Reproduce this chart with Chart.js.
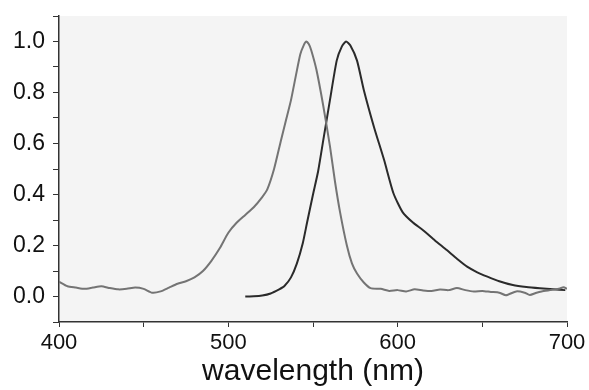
<!DOCTYPE html>
<html>
<head>
<meta charset="utf-8">
<script src="https://cdn.jsdelivr.net/npm/chart.js@4.4.1/dist/chart.umd.min.js"></script>
<style>
    html, body { margin: 0; padding: 0; background: #fff; }
    #wrap { width: 589px; height: 390px; }
</style>
</head>
<body>
<div id="wrap"><canvas id="spectraChart" width="589" height="390"></canvas></div>
<script>
// Gray spectrum (shorter-wavelength band)
const grayWavelength = [400, 405, 410, 415, 420, 425, 430, 435, 440, 445, 450, 455, 460, 465, 470, 475, 480,
    485, 490, 495, 500, 505, 510, 515, 520, 523, 527, 531, 534, 537, 540, 542.5, 544.5, 546, 547.5, 549, 552,
    556, 560, 563, 566, 570, 573, 576, 580, 584, 590, 595, 600, 605, 610, 615, 620, 625, 630, 635, 640, 645,
    650, 655, 660, 664, 670, 675, 678, 682, 685, 690, 695, 698, 700];
const grayValues = [0.058, 0.04, 0.035, 0.03, 0.035, 0.04, 0.033, 0.028, 0.03, 0.035, 0.03, 0.015, 0.02,
    0.035, 0.05, 0.06, 0.075, 0.1, 0.14, 0.19, 0.25, 0.29, 0.32, 0.35, 0.39, 0.42, 0.5, 0.61, 0.69, 0.77, 0.87,
    0.95, 0.985, 1.0, 0.99, 0.965, 0.89, 0.75, 0.59, 0.45, 0.33, 0.2, 0.13, 0.09, 0.055, 0.033, 0.03, 0.022,
    0.025, 0.02, 0.028, 0.024, 0.022, 0.027, 0.025, 0.033, 0.025, 0.02, 0.022, 0.018, 0.015, 0.005, 0.02,
    0.015, 0.006, 0.015, 0.02, 0.025, 0.03, 0.036, 0.03];

// Black spectrum (longer-wavelength band)
const blackWavelength = [510, 515, 520, 525, 530, 533, 537, 540.5, 544, 546.5, 550, 553, 556, 560, 564, 567,
    569.5, 572, 576, 580, 586, 592, 597.5, 603, 609, 615, 622, 629, 635, 641, 647, 653, 660, 668, 676, 684,
    692, 699];
const blackValues = [0.0, 0.001, 0.004, 0.012, 0.028, 0.04, 0.075, 0.13, 0.21, 0.29, 0.4, 0.49, 0.61, 0.77,
    0.925, 0.98, 1.0, 0.985, 0.925, 0.81, 0.665, 0.535, 0.405, 0.33, 0.29, 0.26, 0.22, 0.182, 0.148, 0.117,
    0.095, 0.078, 0.06, 0.045, 0.037, 0.032, 0.028, 0.025];

// Axis ticks
const xTickLabels = [400, 500, 600, 700];
const yTickLabels = [0.0, 0.2, 0.4, 0.6, 0.8, 1.0];

const toPoints = (xs, ys) => xs.map((x, i) => ({ x: x, y: ys[i] }));

// light gray plot background
const plotBackground = {
    id: 'plotBackground',
    beforeDraw(chart) {
        const { ctx, chartArea } = chart;
        ctx.save();
        ctx.fillStyle = '#f4f4f4';
        ctx.fillRect(chartArea.left, chartArea.top, chartArea.right - chartArea.left, chartArea.bottom - chartArea.top);
        ctx.restore();
    }
};

new Chart(document.getElementById('spectraChart').getContext('2d'), {
    type: 'scatter',
    data: {
        datasets: [
            {
                label: 'gray',
                data: toPoints(grayWavelength, grayValues),
                showLine: true,
                borderColor: '#747474',
                borderWidth: 2,
                pointRadius: 0,
                tension: 0.2
            },
            {
                label: 'black',
                data: toPoints(blackWavelength, blackValues),
                showLine: true,
                borderColor: '#2a2a2a',
                borderWidth: 2,
                pointRadius: 0,
                tension: 0.2
            }
        ]
    },
    options: {
        responsive: false,
        animation: false,
        layout: { padding: { top: 0, right: 22, left: 0, bottom: 0 } },
        plugins: {
            legend: { display: false },
            tooltip: { enabled: false }
        },
        scales: {
            x: {
                type: 'linear',
                min: 400,
                max: 700,
                afterFit: scale => { scale.height = 68; },
                border: { display: true, color: '#333', width: 1.5 },
                grid: { drawOnChartArea: false, drawTicks: true, tickLength: 5, color: '#333' },
                ticks: {
                    stepSize: 50,
                    padding: 3,
                    color: '#111',
                    font: { family: 'Liberation Sans, Arial, sans-serif', size: 22 },
                    maxRotation: 0,
                    autoSkip: false,
                    callback: v => xTickLabels.includes(v) ? String(v) : ''
                },
                title: {
                    display: true,
                    text: 'wavelength (nm)',
                    color: '#111',
                    font: { family: 'Liberation Sans, Arial, sans-serif', size: 30 },
                    padding: { top: 2, bottom: 0 }
                }
            },
            y: {
                min: -0.1,
                max: 1.1,
                afterFit: scale => {
                    scale.width = 59;
                    scale.paddingTop = 16;
                    scale.paddingBottom = 0;
                },
                border: { display: true, color: '#333', width: 1.5 },
                grid: { drawOnChartArea: false, drawTicks: true, tickLength: 6, color: '#333' },
                ticks: {
                    stepSize: 0.1,
                    maxTicksLimit: 20,
                    autoSkip: false,
                    padding: 8,
                    color: '#111',
                    font: { family: 'Liberation Sans, Arial, sans-serif', size: 23 },
                    callback: v => {
                        const r = Math.round(v * 10) / 10;
                        return yTickLabels.includes(r) ? r.toFixed(1) : '';
                    }
                }
            }
        }
    },
    plugins: [plotBackground]
});
</script>
</body>
</html>
